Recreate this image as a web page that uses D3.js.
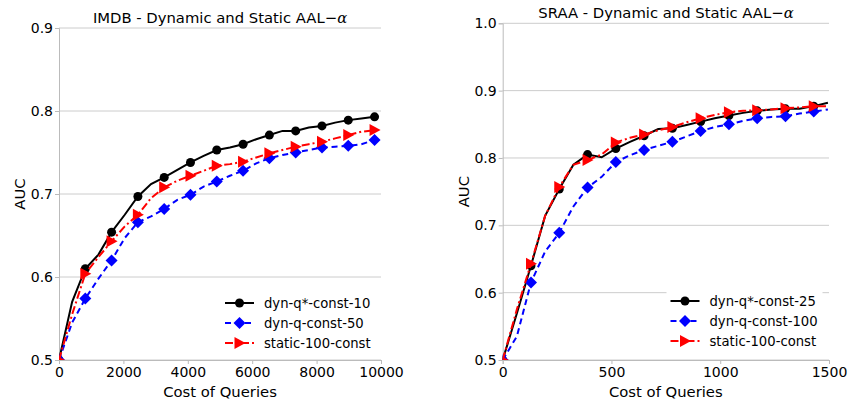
<!DOCTYPE html>
<html>
<head>
<meta charset="utf-8">
<script src="https://cdn.jsdelivr.net/npm/d3@7/dist/d3.min.js"></script>
<style>
  body { margin: 0; background: #fff; }
  svg { display: block; font-family: "DejaVu Sans", sans-serif; }
  .grid line { stroke: #cccccc; stroke-width: 1; }
  .axis path, .axis line { stroke: #bbbbbb; }
  .axis text { fill: #000; font-size: 14px; font-family: "DejaVu Sans", sans-serif; }
</style>
</head>
<body>
<svg id="chart" width="852" height="403"></svg>
<script>
// ---- data ----
// IMDB panel: cost of queries, sampled every ~408, markers on every other point
const imdbCost = [0, 408, 817, 1225, 1633, 2042, 2450, 2858, 3267, 3675, 4083, 4492, 4900,
    5308, 5717, 6125, 6533, 6942, 7350, 7758, 8167, 8575, 8983, 9392, 9800];
const imdbDynQStar10 = [0.500, 0.570, 0.610, 0.627, 0.654, 0.675, 0.697, 0.712, 0.720, 0.729, 0.738, 0.746, 0.753,
    0.756, 0.760, 0.766, 0.771, 0.776, 0.776, 0.780, 0.782, 0.786, 0.789, 0.791, 0.793];
const imdbDynQ50 = [0.500, 0.545, 0.574, 0.598, 0.620, 0.647, 0.666, 0.673, 0.682, 0.693, 0.699, 0.709, 0.715,
    0.722, 0.728, 0.737, 0.743, 0.747, 0.750, 0.753, 0.756, 0.757, 0.758, 0.760, 0.765];
const imdbStatic100 = [0.500, 0.555, 0.604, 0.624, 0.643, 0.661, 0.675, 0.695, 0.708, 0.716, 0.722, 0.728, 0.734,
    0.736, 0.739, 0.744, 0.749, 0.753, 0.757, 0.760, 0.763, 0.767, 0.771, 0.775, 0.777];

// SRAA panel: cost sampled every 65
const sraaCost = [0, 65, 130, 195, 260, 325, 390, 455, 520, 585, 650, 715, 780,
    845, 910, 975, 1040, 1105, 1170, 1235, 1300, 1365, 1430, 1495];
const sraaDynQStar25 = [0.500, 0.569, 0.640, 0.714, 0.754, 0.790, 0.805, 0.801, 0.814, 0.824, 0.833, 0.843, 0.844,
    0.849, 0.854, 0.859, 0.863, 0.867, 0.870, 0.872, 0.873, 0.873, 0.877, 0.882];
const sraaDynQ100 = [0.500, 0.535, 0.615, 0.661, 0.689, 0.728, 0.756, 0.772, 0.794, 0.804, 0.812, 0.818, 0.824,
    0.832, 0.840, 0.846, 0.850, 0.855, 0.859, 0.861, 0.862, 0.866, 0.869, 0.872];
const sraaStatic100 = [0.500, 0.575, 0.643, 0.714, 0.757, 0.790, 0.797, 0.805, 0.823, 0.830, 0.835, 0.841, 0.846,
    0.853, 0.859, 0.864, 0.868, 0.870, 0.871, 0.872, 0.874, 0.875, 0.877, 0.877];

const imdbXTicks = [0, 2000, 4000, 6000, 8000, 10000];
const imdbYTicks = [0.5, 0.6, 0.7, 0.8, 0.9];
const sraaXTicks = [0, 500, 1000, 1500];
const sraaYTicks = [0.5, 0.6, 0.7, 0.8, 0.9, 1.0];

const imdbNames = ["dyn-q*-const-10", "dyn-q-const-50", "static-100-const"];
const sraaNames = ["dyn-q*-const-25", "dyn-q-const-100", "static-100-const"];

// line styles shared by both panels
const styles = [
    {color: "#000000", dash: null, marker: "circle"},
    {color: "#0000ff", dash: "6,4", marker: "diamond"},
    {color: "#ff0000", dash: "8,3,2,3", marker: "triangle"}
];

const svg = d3.select("#chart");

function drawMarker(g, type, color) {
    if (type === "circle") {
        g.append("circle").attr("r", 4.5).attr("fill", color);
    } else if (type === "diamond") {
        g.append("path").attr("d", "M0,-6L6,0L0,6L-6,0Z").attr("fill", color);
    } else {
        g.append("path").attr("d", "M-5,-6L6,0L-5,6Z").attr("fill", color);
    }
}

function drawPanel(cfg) {
    let {left, right, top, bottom, xMax, yMin, yMax, xTicks, yTicks, cost, series, names,
        title, titleX, legend, clipId} = cfg;

    let x = d3.scaleLinear().domain([0, xMax]).range([left, right]);
    let y = d3.scaleLinear().domain([yMin, yMax]).range([bottom, top]);

    // horizontal grid
    svg.append("g").attr("class", "grid")
        .selectAll("line").data(yTicks).enter().append("line")
        .attr("x1", left).attr("x2", right)
        .attr("y1", d => y(d)).attr("y2", d => y(d));

    // axes (left and bottom spines only)
    svg.append("g").attr("class", "axis")
        .attr("transform", "translate(0," + bottom + ")")
        .call(d3.axisBottom(x).tickValues(xTicks).tickSize(4).tickPadding(3).tickFormat(d3.format("d")));
    svg.append("g").attr("class", "axis")
        .attr("transform", "translate(" + left + ",0)")
        .call(d3.axisLeft(y).tickValues(yTicks).tickSize(4).tickPadding(2).tickFormat(d3.format(".1f")));

    // matplotlib-like clipping to the axes box
    svg.append("clipPath").attr("id", clipId)
        .append("rect").attr("x", left).attr("y", top)
        .attr("width", right - left).attr("height", bottom - top);

    let plot = svg.append("g").attr("clip-path", "url(#" + clipId + ")");
    let line = d3.line().x((d, i) => x(cost[i])).y(d => y(d));

    series.forEach((vals, s) => {
        let st = styles[s];
        plot.append("path")
            .attr("d", line(vals))
            .attr("fill", "none")
            .attr("stroke", st.color)
            .attr("stroke-width", 2)
            .attr("stroke-dasharray", st.dash);
        plot.selectAll(null)
            .data(vals.map((v, i) => [cost[i], v]).filter((d, i) => i % 2 === 0))
            .enter().append("g")
            .attr("transform", d => "translate(" + x(d[0]) + "," + y(d[1]) + ")")
            .each(function () { drawMarker(d3.select(this), st.marker, st.color); });
    });

    // legend
    svg.append("rect")
        .attr("x", legend.x).attr("y", legend.y)
        .attr("width", legend.w).attr("height", legend.h)
        .attr("fill", "#fff");
    names.forEach((name, s) => {
        let st = styles[s];
        let ly = legend.y + 12 + s * 20;
        let g = svg.append("g");
        g.append("line")
            .attr("x1", legend.x + 4).attr("x2", legend.x + 33)
            .attr("y1", ly).attr("y2", ly)
            .attr("stroke", st.color).attr("stroke-width", 2)
            .attr("stroke-dasharray", st.dash);
        let mk = g.append("g").attr("transform", "translate(" + (legend.x + 18.5) + "," + ly + ")");
        drawMarker(mk, st.marker, st.color);
        g.append("text")
            .attr("x", legend.x + 43).attr("y", ly + 5)
            .attr("font-size", 13.2)
            .text(name);
    });

    // title with math alpha
    let t = svg.append("text")
        .attr("x", titleX).attr("y", top - 5)
        .attr("text-anchor", "middle")
        .attr("font-size", 14.8);
    t.append("tspan").text(title + " AAL");
    t.append("tspan").text("\u2212");
    t.append("tspan").attr("font-family", "DejaVu Serif").attr("font-style", "italic").text("\u03b1");

    // axis labels
    svg.append("text")
        .attr("x", (left + right) / 2).attr("y", 397)
        .attr("text-anchor", "middle").attr("font-size", 14.8)
        .text("Cost of Queries");
    svg.append("text")
        .attr("transform", "translate(" + (left - 34) + "," + ((top + bottom) / 2) + ") rotate(-90)")
        .attr("text-anchor", "middle").attr("font-size", 14.8)
        .text("AUC");
}

drawPanel({
    left: 59, right: 381, top: 28, bottom: 360,
    xMax: 10000, yMin: 0.5, yMax: 0.9,
    xTicks: imdbXTicks, yTicks: imdbYTicks,
    cost: imdbCost,
    series: [imdbDynQStar10, imdbDynQ50, imdbStatic100],
    names: imdbNames,
    title: "IMDB - Dynamic and Static", titleX: 220,
    legend: {x: 221, y: 291, w: 154, h: 62},
    clipId: "clipImdb"
});

drawPanel({
    left: 502.7, right: 829, top: 23.3, bottom: 360,
    xMax: 1500, yMin: 0.5, yMax: 1.0,
    xTicks: sraaXTicks, yTicks: sraaYTicks,
    cost: sraaCost,
    series: [sraaDynQStar25, sraaDynQ100, sraaStatic100],
    names: sraaNames,
    title: "SRAA - Dynamic and Static", titleX: 666,
    legend: {x: 666.5, y: 289, w: 156, h: 62},
    clipId: "clipSraa"
});
</script>
</body>
</html>
